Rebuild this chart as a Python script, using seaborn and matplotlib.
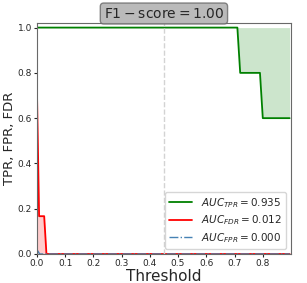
import numpy as np
import pandas as pd
import seaborn as sns
import matplotlib.pyplot as plt

# data
thr_tpr = [0.0, 0.71, 0.72, 0.79, 0.80, 0.895]
tpr = [1.0, 1.0, 0.8, 0.8, 0.6, 0.6]

thr_fdr = [0.0, 0.008, 0.026, 0.034, 0.895]
fdr = [0.75, 0.167, 0.167, 0.0, 0.0]

thr_fpr = [0.0, 0.01, 0.895]
fpr = [0.02, 0.0, 0.0]

auc_labels = [r"$AUC_{TPR} = 0.935$", r"$AUC_{FDR} = 0.012$", r"$AUC_{FPR} = 0.000$"]
best_thr = 0.45
f1_text = r"$\mathrm{F1-score = 1.00}$"

#%% plot
sns.set_style("ticks")
fig = plt.figure(figsize=(3.07, 2.83), dpi=100)
ax = fig.add_axes([0.12, 0.1025, 0.828, 0.816])

df_tpr = pd.DataFrame({"thr": thr_tpr, "val": tpr})
df_fdr = pd.DataFrame({"thr": thr_fdr, "val": fdr})
df_fpr = pd.DataFrame({"thr": thr_fpr, "val": fpr})

sns.lineplot(data=df_tpr, x="thr", y="val", color="green", lw=1.3, ax=ax, label=auc_labels[0])
sns.lineplot(data=df_fdr, x="thr", y="val", color="red", lw=1.3, ax=ax, label=auc_labels[1])
sns.lineplot(data=df_fpr, x="thr", y="val", color="steelblue", lw=1.0, ls="-.", ax=ax, label=auc_labels[2])

ax.fill_between(thr_tpr, tpr, 1.0, color="green", alpha=0.2, lw=0)
ax.fill_between(thr_fdr, fdr, 0.0, color="red", alpha=0.2, lw=0)
ax.axvline(best_thr, color="lightgray", ls="--", lw=1)

ax.set_xlim(0, 0.9)
ax.set_ylim(0, 1.02)
ax.set_xticks(np.arange(0, 0.85, 0.1))
ax.set_yticks([0, 0.2, 0.4, 0.6, 0.8, 1.0])
ax.tick_params(labelsize=6.5, length=2, pad=1.5)
for s in ax.spines.values():
    s.set_color("dimgray")

ax.set_xlabel("Threshold", fontsize=11, labelpad=1)
ax.set_ylabel("TPR, FPR, FDR", fontsize=9.5, labelpad=1)
ax.set_title(f1_text, fontsize=10, pad=4,
             bbox=dict(boxstyle="round,pad=0.25", fc="darkgray", ec="dimgray", alpha=0.8))
ax.legend(loc="lower right", fontsize=7.5, handlelength=2.2, borderpad=0.4, labelspacing=0.35)

fig.savefig("out.png", dpi=100)
